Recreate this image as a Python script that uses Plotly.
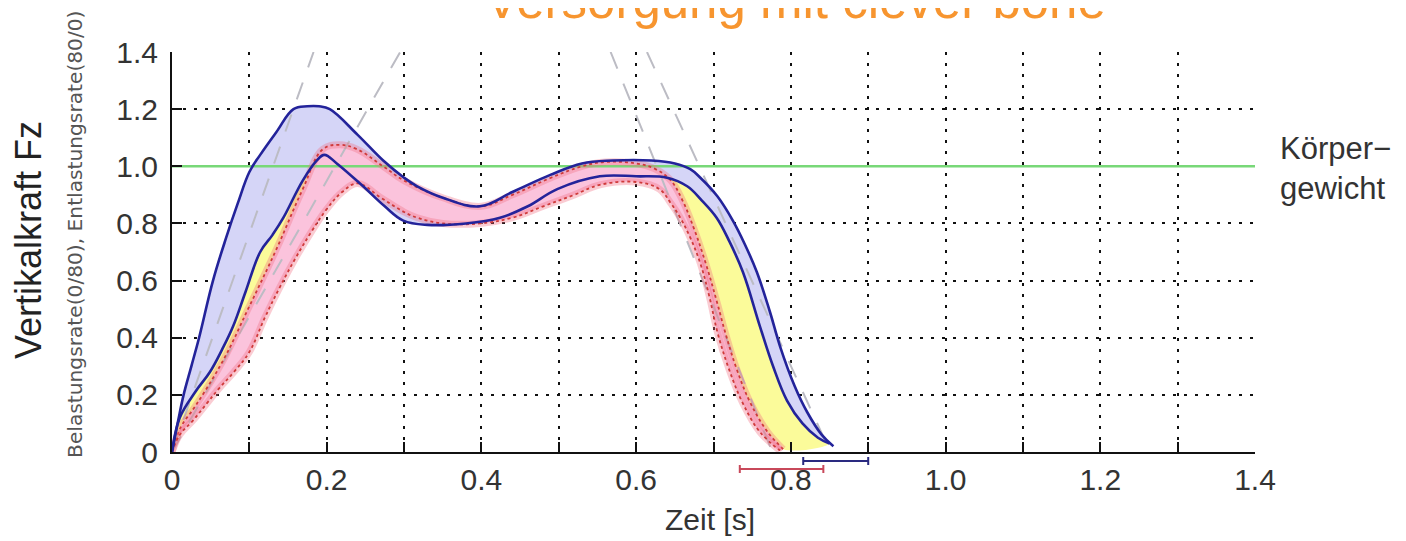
import plotly.graph_objects as go

# ---------------- data ----------------
# blue group (upper / lower envelope), time [s] and Fz / body weight
t_b1 = [0, 0.008, 0.015, 0.025, 0.035, 0.053, 0.07, 0.085, 0.10, 0.114,
        0.135, 0.157, 0.175, 0.19, 0.204, 0.24, 0.273, 0.30, 0.317, 0.35,
        0.398, 0.44, 0.489, 0.53, 0.57, 0.62, 0.65, 0.67, 0.683, 0.705,
        0.725, 0.74, 0.756, 0.773, 0.786, 0.805, 0.821, 0.84, 0.855]
f_b1 = [0, 0.11, 0.20, 0.30, 0.40, 0.60, 0.75, 0.87, 0.98, 1.04,
        1.12, 1.20, 1.21, 1.21, 1.20, 1.11, 1.02, 0.96, 0.93, 0.89,
        0.86, 0.91, 0.97, 1.01, 1.02, 1.02, 1.01, 0.99, 0.96, 0.895,
        0.81, 0.73, 0.63, 0.49, 0.37, 0.23, 0.14, 0.06, 0.02]

t_b2 = [0, 0.01, 0.03, 0.049, 0.065, 0.079, 0.095, 0.114, 0.13, 0.144,
        0.169, 0.187, 0.197, 0.213, 0.247, 0.275, 0.299, 0.33, 0.38, 0.424,
        0.46, 0.498, 0.553, 0.60, 0.64, 0.666, 0.685, 0.704, 0.72, 0.738,
        0.760, 0.777, 0.795, 0.815, 0.835, 0.85]
f_b2 = [0, 0.12, 0.21, 0.28, 0.36, 0.44, 0.56, 0.70, 0.76, 0.82,
        0.95, 1.02, 1.04, 1.01, 0.93, 0.86, 0.81, 0.795, 0.80, 0.82,
        0.86, 0.92, 0.965, 0.965, 0.96, 0.93, 0.88, 0.82, 0.74, 0.63,
        0.44, 0.30, 0.18, 0.10, 0.05, 0.03]

# red group (upper / lower envelope)
t_r1 = [0, 0.012, 0.03, 0.066, 0.10, 0.135, 0.169, 0.195, 0.217, 0.239,
        0.273, 0.30, 0.35, 0.40, 0.44, 0.49, 0.53, 0.56, 0.60, 0.625,
        0.645, 0.66, 0.675, 0.69, 0.705, 0.715, 0.73, 0.748, 0.77, 0.79]
f_r1 = [0, 0.09, 0.16, 0.32, 0.51, 0.71, 0.92, 1.06, 1.075, 1.06,
        1.00, 0.95, 0.89, 0.86, 0.90, 0.96, 1.00, 1.015, 1.01, 0.99,
        0.95, 0.88, 0.78, 0.66, 0.52, 0.42, 0.29, 0.17, 0.07, 0.01]

t_r2 = [0, 0.01, 0.027, 0.045, 0.06, 0.08, 0.10, 0.12, 0.14, 0.16,
        0.18, 0.20, 0.22, 0.24, 0.27, 0.30, 0.317, 0.35, 0.398, 0.44,
        0.48, 0.52, 0.553, 0.60, 0.63, 0.645, 0.657, 0.67, 0.683, 0.695,
        0.705, 0.72, 0.738, 0.76, 0.786]
f_r2 = [0, 0.06, 0.11, 0.17, 0.22, 0.28, 0.35, 0.47, 0.58, 0.68,
        0.77, 0.85, 0.91, 0.94, 0.89, 0.84, 0.82, 0.80, 0.80, 0.82,
        0.86, 0.90, 0.935, 0.945, 0.92, 0.87, 0.82, 0.75, 0.66, 0.54,
        0.42, 0.29, 0.17, 0.07, 0.005]

# loading / unloading rate lines (start/end time, start/end force)
rate_t0 = [0.0, 0.0, 0.567, 0.614]
rate_t1 = [0.183, 0.295, 0.776, 0.851]
rate_f0 = [0.0, 0.0, 1.4, 1.4]
rate_f1 = [1.4, 1.4, 0.0, 0.0]

# body weight reference
body_weight = 1.0
body_label = "Körper−<br>gewicht"

# stance-time mean +/- sd (red group, blue group)
eb_mean = [0.788, 0.858]
eb_sd = [0.054, 0.042]
eb_row = [0, 1]
eb_color = ["#c8485a", "#2a2a80"]

x_ticks = [0, 0.2, 0.4, 0.6, 0.8, 1.0, 1.2, 1.4]
x_ticktext = ["0", "0.2", "0.4", "0.6", "0.8", "1.0", "1.2", "1.4"]
y_ticks = [0, 0.2, 0.4, 0.6, 0.8, 1.0, 1.2, 1.4]
y_ticktext = ["0", "0.2", "0.4", "0.6", "0.8", "1.0", "1.2", "1.4"]

title = "Versorgung mit clever bone"
x_title = "Zeit [s]"
y_title = "Vertikalkraft Fz"
y_subtitle = "Belastungsrate(0/80), Entlastungsrate(80/0)"

# ---------------- figure ----------------
FONT = "Liberation Sans, Arial, sans-serif"
NAVY = "#23239a"
RED = "#cf3a3a"
SM = 1.1

fig = go.Figure()

def poly(ta, fa, tb, fb):
    return list(ta) + list(tb)[::-1], list(fa) + list(fb)[::-1]

# fills: yellow (blue lower <-> red upper), blue band, pink band
xs, ys = poly(t_b2, f_b2, t_r1, f_r1)
fig.add_trace(go.Scatter(x=xs, y=ys, fill="toself", fillcolor="#fbfb9a",
                         line=dict(width=0, shape="spline", smoothing=SM),
                         mode="lines", hoverinfo="skip"))
xs, ys = poly(t_b1, f_b1, t_b2, f_b2)
fig.add_trace(go.Scatter(x=xs, y=ys, fill="toself", fillcolor="#d5d5f7",
                         line=dict(width=0, shape="spline", smoothing=SM),
                         mode="lines", hoverinfo="skip"))
xs, ys = poly(t_r1, f_r1, t_r2, f_r2)
fig.add_trace(go.Scatter(x=xs, y=ys, fill="toself", fillcolor="#fbc3dc",
                         line=dict(width=0, shape="spline", smoothing=SM),
                         mode="lines", hoverinfo="skip"))

# rate lines
for a, b, c, d in zip(rate_t0, rate_t1, rate_f0, rate_f1):
    fig.add_trace(go.Scatter(x=[a, b], y=[c, d], mode="lines",
                             line=dict(color="#bcbcc4", width=2, dash="18px,16px"),
                             hoverinfo="skip"))

# body weight line
fig.add_trace(go.Scatter(x=[x_ticks[0], x_ticks[-1]], y=[body_weight, body_weight],
                         mode="lines", line=dict(color="#78d878", width=2.5),
                         hoverinfo="skip"))

# red group lines (halo + dotted line)
for t, f in ((t_r1, f_r1), (t_r2, f_r2)):
    fig.add_trace(go.Scatter(x=t, y=f, mode="lines",
                             line=dict(color="rgba(240,110,130,0.35)", width=7,
                                       shape="spline", smoothing=SM),
                             hoverinfo="skip"))
    fig.add_trace(go.Scatter(x=t, y=f, mode="lines",
                             line=dict(color=RED, width=1.8, dash="3px,3px",
                                       shape="spline", smoothing=SM),
                             hoverinfo="skip"))

# blue group lines
for t, f in ((t_b1, f_b1), (t_b2, f_b2)):
    fig.add_trace(go.Scatter(x=t, y=f, mode="lines",
                             line=dict(color=NAVY, width=2.6,
                                       shape="spline", smoothing=SM),
                             hoverinfo="skip"))

# stance-time error bars below the axis
for m, s, r, c in zip(eb_mean, eb_sd, eb_row, eb_color):
    fig.add_trace(go.Scatter(x=[m], y=[r], mode="markers", xaxis="x2", yaxis="y2",
                             marker=dict(size=1, color="rgba(0,0,0,0)"),
                             error_x=dict(type="constant", value=s, color=c,
                                          thickness=2, width=4),
                             hoverinfo="skip"))

grid = dict(showgrid=True, gridcolor="#111", gridwidth=2, griddash="3px,8px")
tickstyle = dict(ticks="inside", ticklen=10, tickwidth=2, tickcolor="#111")

fig.update_layout(
    width=1406, height=541,
    margin=dict(l=164, r=159, t=44, b=68),
    paper_bgcolor="white", plot_bgcolor="white",
    showlegend=False,
    xaxis=dict(domain=[0, 1], range=[0, 1.4], anchor="y",
               tickmode="array", tickvals=x_ticks, ticktext=x_ticktext,
               showline=True, linecolor="#111", linewidth=2, zeroline=False,
               tickfont=dict(family=FONT, size=30, color="#333"),
               minor=dict(dtick=0.1, tick0=0, **tickstyle, **grid),
               **tickstyle, **grid),
    yaxis=dict(domain=[0.0676, 1], range=[0, 1.4], anchor="x",
               tickmode="array", tickvals=y_ticks, ticktext=y_ticktext,
               showline=True, linecolor="#111", linewidth=2, zeroline=False,
               tickfont=dict(family=FONT, size=30, color="#333"),
               ticklabelstandoff=6,
               **tickstyle, **grid),
    xaxis2=dict(anchor="y2", matches="x", visible=False),
    yaxis2=dict(domain=[0, 0.0676], anchor="x2", range=[-1.5, 2.125], visible=False),
    annotations=[
        dict(text=title, xref="paper", yref="paper", x=0.576, y=1.1205,
             xanchor="center", yanchor="middle", showarrow=False,
             font=dict(family=FONT, size=51, color="#f7952f")),
        dict(text=x_title, xref="paper", yref="paper", x=0.497, y=-0.09,
             xanchor="center", yanchor="middle", showarrow=False,
             font=dict(family=FONT, size=30, color="#333")),
        dict(text=y_title, xref="paper", yref="paper", x=-0.132, y=0.5618,
             xanchor="center", yanchor="middle", showarrow=False, textangle=-90,
             font=dict(family=FONT, size=36, color="#222")),
        dict(text=y_subtitle, xref="paper", yref="paper", x=-0.0896, y=0.5758,
             xanchor="center", yanchor="middle", showarrow=False, textangle=-90,
             font=dict(family="DejaVu Sans, sans-serif", size=20.2, color="#555")),
        dict(text=body_label, xref="paper", yref="paper", x=1.0212, y=0.7296,
             xanchor="left", yanchor="middle", align="left", showarrow=False,
             font=dict(family=FONT, size=31, color="#333")),
    ],
)

fig.write_html("out.html")
